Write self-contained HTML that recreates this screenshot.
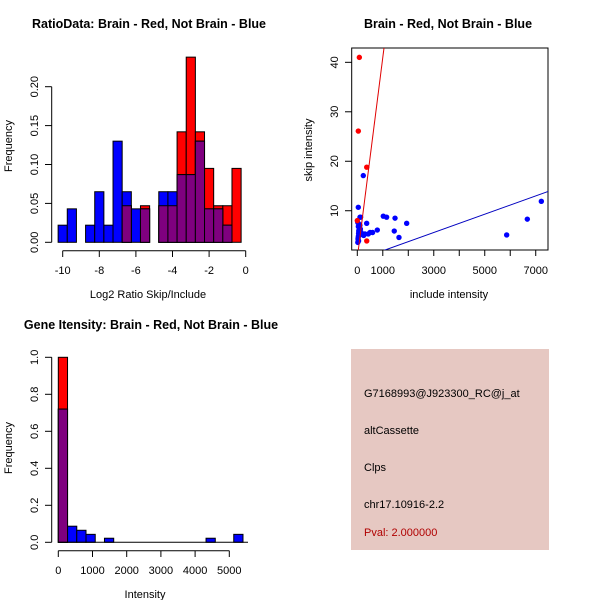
<!DOCTYPE html>
<html><head><meta charset="utf-8"><style>
body{margin:0;background:#fff}
svg text{font-family:"Liberation Sans",sans-serif;font-size:11px}
</style></head><body>
<svg id="s" width="600" height="600" xmlns="http://www.w3.org/2000/svg">
<rect width="600" height="600" fill="#fff"/>
<text x="149" y="28" text-anchor="middle" font-weight="bold" style="font-size:12.5px">RatioData: Brain - Red, Not Brain - Blue</text>
<text x="448" y="28" text-anchor="middle" font-weight="bold" style="font-size:12.5px">Brain - Red, Not Brain - Blue</text>
<text x="151" y="329" text-anchor="middle" font-weight="bold" style="font-size:12.5px">Gene Itensity: Brain - Red, Not Brain - Blue</text>
<text x="148" y="298" text-anchor="middle">Log2 Ratio Skip/Include</text>
<text transform="translate(12,146) rotate(-90)" text-anchor="middle">Frequency</text>
<text x="449" y="298" text-anchor="middle">include intensity</text>
<text transform="translate(312,150) rotate(-90)" text-anchor="middle">skip intensity</text>
<text x="145" y="598" text-anchor="middle">Intensity</text>
<text transform="translate(12,448) rotate(-90)" text-anchor="middle">Frequency</text>
<rect x="351" y="349" width="198" height="201" fill="#e6c8c2"/>
<text x="364" y="397">G7168993@J923300_RC@j_at</text>
<text x="364" y="434">altCassette</text>
<text x="364" y="471">Clps</text>
<text x="364" y="508">chr17.10916-2.2</text>
<text x="364" y="536" fill="#b00000">Pval: 2.000000</text>
<g id="g"></g>
</svg>
<script>
// Panel 1 data (bins of width 0.5 starting at -10.25)
const ratioBinStart=-10.25, ratioBinWidth=0.5;
const ratioBlue=[0.022,0.043,0,0.022,0.065,0.022,0.13,0.065,0.043,0.043,0,0.065,0.065,0.087,0.087,0.13,0.043,0.043,0.022,0];
const ratioRed=[0,0,0,0,0,0,0,0.047,0,0.047,0,0.047,0.047,0.142,0.238,0.142,0.095,0.047,0.047,0.095];
const ratioXTicks=[-10,-8,-6,-4,-2,0];
const ratioYTicks=["0.00","0.05","0.10","0.15","0.20"];
// Panel 2 data
const blueX=[235,39,106,130,368,1020,1150,1480,1937,1450,1635,785,600,500,430,5860,6670,7220,20,30,40,50,60,80,90,100,120,150,200,250,300,20,40,60,30,50,70];
const blueY=[17.1,10.7,8.7,8.7,7.45,8.9,8.7,8.5,7.45,5.9,4.6,6.1,5.6,5.6,5.3,5.1,8.3,11.9,3.6,4.2,4.8,5.4,6.0,6.6,7.2,7.0,6.3,5.6,5.2,5.0,5.3,7.6,6.8,5.8,4.4,3.9,5.0];
const redX=[80,40,370,0,370];
const redY=[41,26.1,18.8,8,3.9];
const redLine=[0.48,0.0405];
const blueLine=[0.05,0.00185];
const scatXTicks=[0,1000,3000,5000,7000];
const scatYTicks=[10,20,30,40];
// Panel 3 data (bins of width 270 starting at 0)
const intBinWidth=270;
const intBlue=[0.72,0.087,0.065,0.043,0,0.022,0,0,0,0,0,0,0,0,0,0,0.022,0,0,0.043];
const intRed=[1.0];
const intXTicks=[0,1000,2000,3000,4000,5000];
const intYTicks=["0.0","0.2","0.4","0.6","0.8","1.0"];

const NS="http://www.w3.org/2000/svg", G=document.getElementById('g');
function mk(t,a,name){const e=document.createElementNS(NS,t);for(const k in a)e.setAttribute(k,a[k]);


G.appendChild(e);return e;}
function txt(x,y,s,anchor,rot,name){const e=mk('text',{x:x,y:y,'text-anchor':anchor||'middle'},name);if(rot)e.setAttribute('transform','rotate(-90 '+x+' '+y+')');e.textContent=s;return e;}

// Panel 1
const p1x=v=>62.7+(v+10)*18.3, p1y=v=>242.3-v*778;
function hist1(arr,color,name){arr.forEach((h,i)=>{if(h<=0)return;const a=ratioBinStart+i*ratioBinWidth;
mk('rect',{x:p1x(a),y:p1y(h),width:p1x(a+ratioBinWidth)-p1x(a),height:p1y(0)-p1y(h),fill:color,stroke:'#000','stroke-width':1},name);});}
hist1(ratioRed,'#ff0000','ratio-bar-red');
hist1(ratioBlue,'#0000ff','ratio-bar-blue');
hist1(ratioBlue.map((b,i)=>Math.min(b,ratioRed[i])),'#7f007f','ratio-bar-overlap');
mk('line',{x1:p1x(-10),x2:p1x(0),y1:250.7,y2:250.7,stroke:'#000'},'ratio-x-axis');
ratioXTicks.forEach(t=>{mk('line',{x1:p1x(t),x2:p1x(t),y1:250.7,y2:257,stroke:'#000'},'ratio-x-tick');txt(p1x(t),274,String(t),'middle',0,'ratio-x-label');});
mk('line',{x1:51.7,x2:51.7,y1:p1y(0),y2:p1y(0.2),stroke:'#000'},'ratio-y-axis');
ratioYTicks.forEach(t=>{const y=p1y(+t);mk('line',{x1:45,x2:51.7,y1:y,y2:y,stroke:'#000'},'ratio-y-tick');txt(38,y,t,'middle',1,'ratio-y-label');});

// Panel 2
const p2x=v=>357.3+v*0.02549, p2y=v=>260.2-v*4.947;
mk('rect',{x:351.7,y:48,width:196.3,height:202,fill:'none',stroke:'#000'},'scatter-frame');
const clip=mk('clipPath',{id:'c2'},'scatter-clip');
const cr=document.createElementNS(NS,'rect');cr.setAttribute('x',351.7);cr.setAttribute('y',48);cr.setAttribute('width',196.3);cr.setAttribute('height',202);clip.appendChild(cr);
blueX.forEach((x,i)=>mk('circle',{cx:p2x(x),cy:p2y(blueY[i]),r:2.7,fill:'#0000ff'},'scatter-point-blue'));
redX.forEach((x,i)=>mk('circle',{cx:p2x(x),cy:p2y(redY[i]),r:2.7,fill:'#ff0000'},'scatter-point-red'));
[[redLine,'#e00000','red-fit-line'],[blueLine,'#0000c0','blue-fit-line']].forEach(([l,c,n])=>{
mk('line',{x1:p2x(-500),y1:p2y(l[0]+l[1]*-500),x2:p2x(8000),y2:p2y(l[0]+l[1]*8000),stroke:c,'clip-path':'url(#c2)'},n);});
scatXTicks.forEach(t=>{mk('line',{x1:p2x(t),x2:p2x(t),y1:250,y2:256,stroke:'#000'},'scatter-x-tick');txt(p2x(t),274,String(t),'middle',0,'scatter-x-label');});
[2000,4000,6000].forEach(t=>mk('line',{x1:p2x(t),x2:p2x(t),y1:250,y2:256,stroke:'#000'},'scatter-x-tick'));
scatYTicks.forEach(t=>{mk('line',{x1:345,x2:351.7,y1:p2y(t),y2:p2y(t),stroke:'#000'},'scatter-y-tick');txt(338,p2y(t),String(t),'middle',1,'scatter-y-label');});

// Panel 3
const p3x=v=>58.3+v*0.0342, p3y=v=>542.3-v*185;
function hist3(arr,color,name){arr.forEach((h,i)=>{if(h<=0)return;const a=i*intBinWidth;
mk('rect',{x:p3x(a),y:p3y(h),width:p3x(a+intBinWidth)-p3x(a),height:p3y(0)-p3y(h),fill:color,stroke:'#000','stroke-width':1},name);});}
hist3(intRed,'#ff0000','intensity-bar-red');
hist3(intBlue,'#0000ff','intensity-bar-blue');
hist3(intBlue.map((b,i)=>Math.min(b,intRed[i]||0)),'#7f007f','intensity-bar-overlap');
mk('line',{x1:58.3,x2:248,y1:542.3,y2:542.3,stroke:'#000'},'intensity-baseline');
mk('line',{x1:p3x(0),x2:p3x(5000),y1:550.7,y2:550.7,stroke:'#000'},'intensity-x-axis');
intXTicks.forEach(t=>{mk('line',{x1:p3x(t),x2:p3x(t),y1:550.7,y2:557,stroke:'#000'},'intensity-x-tick');txt(p3x(t),574,String(t),'middle',0,'intensity-x-label');});
mk('line',{x1:51.7,x2:51.7,y1:p3y(0),y2:p3y(1),stroke:'#000'},'intensity-y-axis');
intYTicks.forEach(t=>{const y=p3y(+t);mk('line',{x1:45,x2:51.7,y1:y,y2:y,stroke:'#000'},'intensity-y-tick');txt(38,y,t,'middle',1,'intensity-y-label');});
</script>
</body></html>
